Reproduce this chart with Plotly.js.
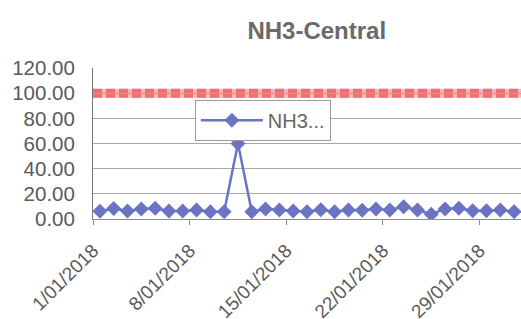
<!DOCTYPE html>
<html>
<head>
<meta charset="utf-8">
<script src="https://cdn.plot.ly/plotly-3.0.1.min.js"></script>
<style>html,body{margin:0;padding:0;background:#fff;}#chart{width:521px;height:319px;}</style>
</head>
<body>
<div id="chart"></div>
<script>
const dates = [
  "2018-01-01","2018-01-02","2018-01-03","2018-01-04","2018-01-05","2018-01-06","2018-01-07",
  "2018-01-08","2018-01-09","2018-01-10","2018-01-11","2018-01-12","2018-01-13","2018-01-14",
  "2018-01-15","2018-01-16","2018-01-17","2018-01-18","2018-01-19","2018-01-20","2018-01-21",
  "2018-01-22","2018-01-23","2018-01-24","2018-01-25","2018-01-26","2018-01-27","2018-01-28",
  "2018-01-29","2018-01-30","2018-01-31"
];
const nh3 = [
  6.2, 8.3, 6.4, 8.0, 8.5, 6.4, 6.4,
  7.2, 5.8, 5.8, 60.0, 5.8, 8.0, 7.2,
  6.4, 5.8, 7.4, 5.8, 7.2, 7.0, 8.0,
  7.2, 9.8, 7.2, 3.8, 8.0, 8.5, 6.6,
  6.6, 7.2, 5.8
];
const limitValue = 100;
const seriesName = "NH3...";
const chartTitle = "NH3-Central";
const yTicks = [0, 20, 40, 60, 80, 100, 120];

const dayMs = 86400000;
const traces = [
  {x: dates, y: nh3, type: "scatter", mode: "lines+markers", name: seriesName,
   xperiod: dayMs, xperiodalignment: "middle",
   line: {color: "#6b73c4", width: 2.5},
   marker: {symbol: "diamond", size: 11.5, color: "#6b73c4"}}
];

const layout = {
  width: 521, height: 319,
  margin: {l: 93, r: 0, t: 68, b: 100},
  paper_bgcolor: "#ffffff", plot_bgcolor: "#ffffff",
  font: {family: "Liberation Sans, Arial, sans-serif", color: "#5a5a5a"},
  title: {text: "<b>" + chartTitle + "</b>", x: 0.608, xanchor: "center", y: 0.905, yanchor: "middle",
          font: {size: 24, color: "#6a6a6a", family: "Liberation Sans, Arial, sans-serif"}},
  xaxis: {
    type: "date",
    range: ["2018-01-01", "2018-02-01"],
    tick0: "2018-01-01", dtick: 7 * dayMs,
    tickformat: "%-d/%m/%Y",
    tickangle: -45,
    tickfont: {size: 19, color: "#5a5a5a"},
    showgrid: false,
    showline: true, linecolor: "#8c8c8c", linewidth: 1,
    ticks: "outside", ticklen: 5, tickcolor: "#8c8c8c",
    ticklabelstandoff: 7,
    zeroline: false, fixedrange: true
  },
  yaxis: {
    range: [0, 120],
    tickvals: yTicks,
    tickformat: ".2f",
    tickfont: {size: 20.5, color: "#5a5a5a", family: "Liberation Sans, Arial, sans-serif"},
    showgrid: true, gridcolor: "#a8a8a8", gridwidth: 1,
    showline: true, linecolor: "#777777", linewidth: 1,
    zeroline: false, ticks: "", ticklabelstandoff: 13, fixedrange: true
  },
  shapes: [
    {type: "line", xref: "paper", x0: 0, x1: 1, yref: "y", y0: limitValue, y1: limitValue,
     line: {color: "#f6b4b4", width: 9}, layer: "below"},
    {type: "line", xref: "paper", x0: 0, x1: 1, yref: "y", y0: limitValue, y1: limitValue,
     line: {color: "#ee7070", width: 9, dash: "9px,4px"}, layer: "below"}
  ],
  showlegend: true,
  legend: {
    x: 0.238, y: 0.79, xanchor: "left", yanchor: "top",
    bgcolor: "#ffffff", bordercolor: "#9a9a9a", borderwidth: 1,
    font: {size: 20, color: "#666666"},
    itemwidth: 62
  }
};

Plotly.newPlot("chart", traces, layout, {displayModeBar: false, staticPlot: true});
</script>
</body>
</html>
